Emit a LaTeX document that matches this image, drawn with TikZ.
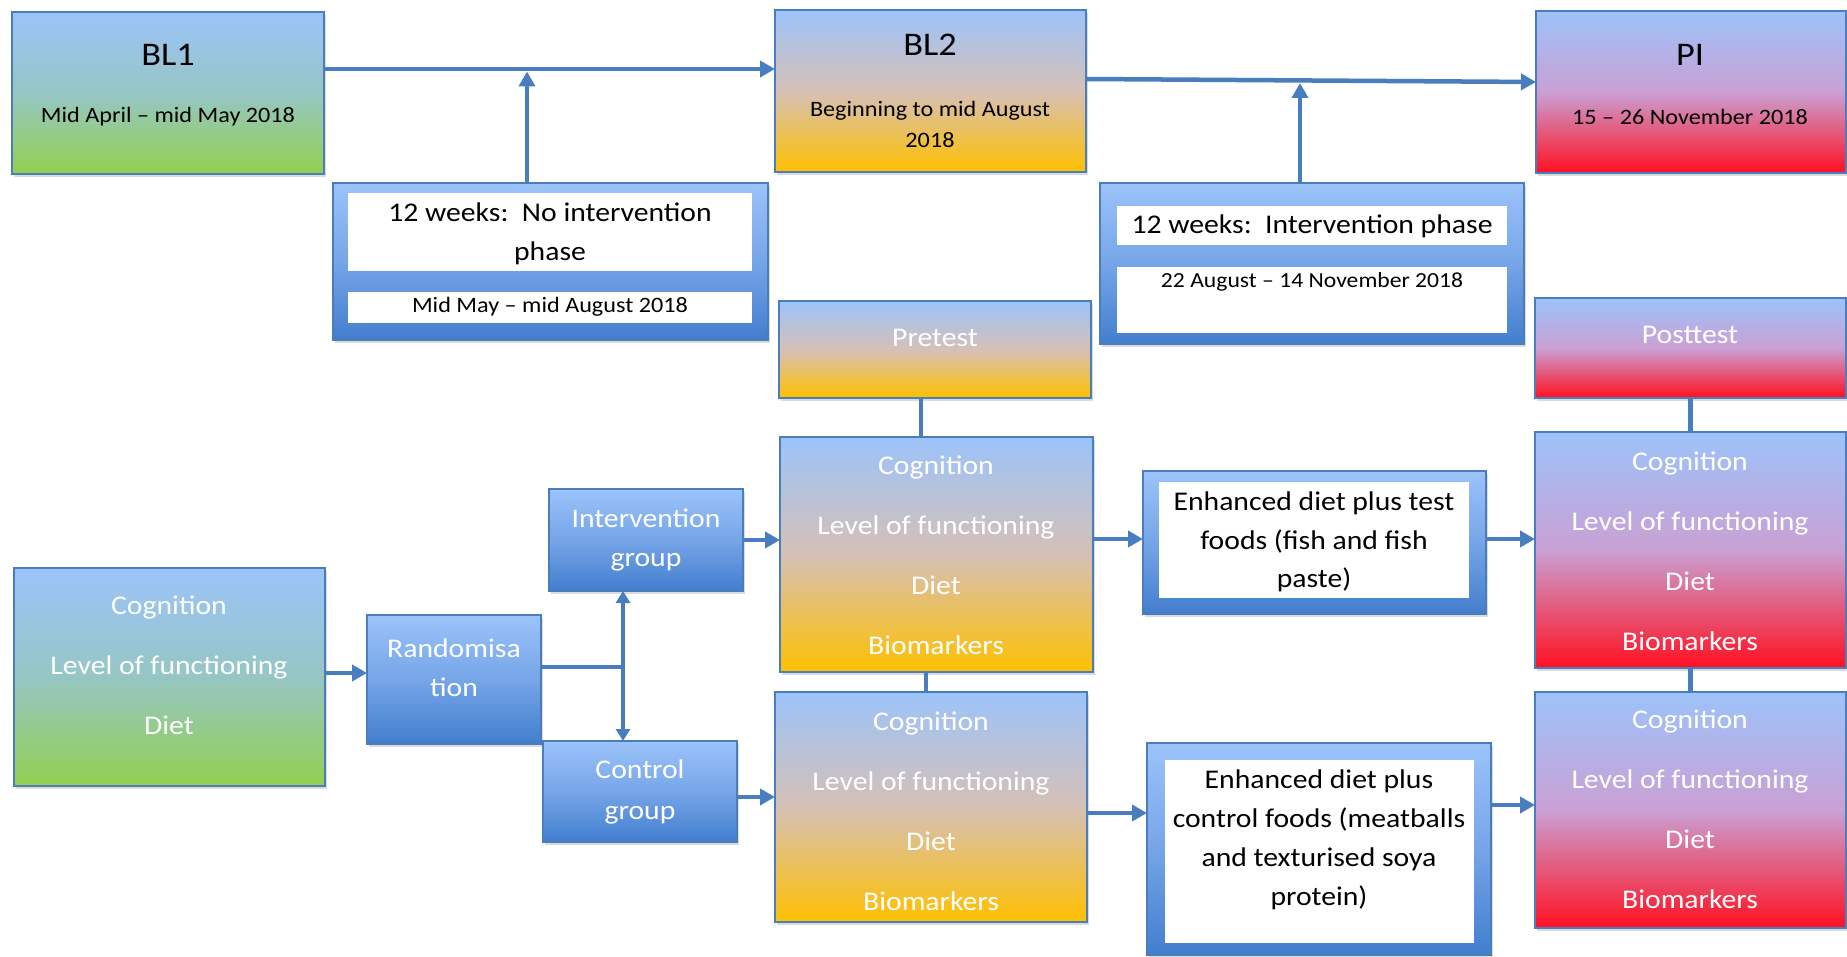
\documentclass[tikz,border=0pt]{standalone}
\usepackage{fontspec}
\setmainfont[FakeStretch=1.1]{Carlito}
\usetikzlibrary{arrows.meta,shadows}
\definecolor{topblue}{RGB}{156,195,250}
\definecolor{midblue}{RGB}{118,165,232}
\definecolor{botblue}{RGB}{66,126,206}
\definecolor{midgreen}{RGB}{150,198,196}
\definecolor{botgreen}{RGB}{146,208,80}
\definecolor{midorange}{RGB}{214,192,182}
\definecolor{botorange}{RGB}{255,192,0}
\definecolor{midred}{RGB}{202,160,212}
\definecolor{botred}{RGB}{255,16,32}
\definecolor{edgecol}{RGB}{74,126,187}
\definecolor{linecol}{RGB}{72,125,192}
\newcommand\mkbox[6]{\node[#1, minimum width={(#5)-(#3)}, minimum height={(#6)-(#4)}] (#2) at ({((#3)+(#5))/2},{((#4)+(#6))/2}) {};}
\tikzset{
  box/.style={draw=edgecol, line width=1.8pt, inner sep=0pt, outer sep=0pt,
    drop shadow={opacity=0.28, shadow xshift=1.5pt, shadow yshift=-3pt}},
  bluebox/.style={box, top color=topblue, bottom color=botblue, middle color=midblue},
  greenbox/.style={box, top color=topblue, bottom color=botgreen, middle color=midgreen},
  orangebox/.style={box, top color=topblue, bottom color=botorange, middle color=midorange},
  redbox/.style={box, top color=topblue, bottom color=botred, middle color=midred},
  whitebox/.style={fill=white, draw=none, inner sep=0pt, outer sep=0pt},
  tw/.style={text=white, align=center, inner sep=0pt},
  tb/.style={text=black, align=center, inner sep=0pt},
  conn/.style={draw=linecol, line width=4.5pt},
  arr/.style={conn, -{Triangle[length=15pt,width=16pt]}},
  darr/.style={conn, {Triangle[length=12pt,width=14pt]}-{Triangle[length=12pt,width=14pt]}},
  lbl/.style={font=\fontsize{27}{60}\selectfont},
}
\begin{document}
\begin{tikzpicture}[x=1pt,y=-1pt]
\useasboundingbox (0,0) rectangle (1847,957);
\fill[white] (0,0) rectangle (1847,957);

% top row
\mkbox{greenbox}{bl1}{12}{12}{324}{174}
\mkbox{orangebox}{bl2}{775}{10}{1086}{172}
\mkbox{redbox}{pi}{1536}{11}{1846}{173}
\node[tb, font=\fontsize{33}{40}\selectfont] (bl1t) at (168,55) {BL1};
\node[tb, font=\fontsize{22}{30}\selectfont] (bl1d) at (168,117) {Mid April – mid May 2018};
\node[tb, font=\fontsize{33}{40}\selectfont] (bl2t) at (930,45) {BL2};
\node[tb, font=\fontsize{22}{31}\selectfont] (bl2d) at (930,124) {Beginning to mid August\\2018};
\node[tb, font=\fontsize{33}{40}\selectfont] (pit) at (1690,55) {PI};
\node[tb, font=\fontsize{22}{30}\selectfont] (pid) at (1690,117) {15 – 26 November 2018};

% phase boxes
\mkbox{bluebox}{wk1}{333}{183}{768}{340}
\mkbox{whitebox}{wk1a}{348}{193}{752}{271}
\mkbox{whitebox}{wk1b}{348}{292}{752}{323}
\node[tb, font=\fontsize{27}{39}\selectfont] (wk1at) at (550,234) {12 weeks:\ \ No intervention\\phase};
\node[tb, font=\fontsize{22}{30}\selectfont] (wk1bt) at (550,307) {Mid May – mid August 2018};
\mkbox{bluebox}{wk2}{1100}{183}{1524}{344}
\mkbox{whitebox}{wk2a}{1117}{206}{1507}{245}
\mkbox{whitebox}{wk2b}{1117}{267}{1507}{333}
\node[tb, font=\fontsize{27}{39}\selectfont] (wk2at) at (1312,226) {12 weeks:\ \ Intervention phase};
\node[tb, font=\fontsize{21.5}{30}\selectfont] (wk2bt) at (1312,282) {22 August – 14 November 2018};

% pre / post
\mkbox{orangebox}{pre}{779}{301}{1091}{398}
\node[tw, lbl] (pret) at (935,338) {Pretest};
\mkbox{redbox}{post}{1535}{298}{1846}{398}
\node[tw, lbl] (postt) at (1690,335) {Posttest};

% measurement boxes
\mkbox{orangebox}{cog1}{780}{437}{1093}{672}
\node[tw, lbl] (cog1t) at (936,555.5) {Cognition\\Level of functioning\\Diet\\Biomarkers};
\mkbox{orangebox}{cog2}{775}{692}{1087}{922}
\node[tw, lbl] (cog2t) at (931,811.5) {Cognition\\Level of functioning\\Diet\\Biomarkers};
\mkbox{redbox}{red1}{1535}{432}{1846}{668}
\node[tw, lbl] (red1t) at (1690,551) {Cognition\\Level of functioning\\Diet\\Biomarkers};
\mkbox{redbox}{red2}{1535}{692}{1846}{928}
\node[tw, lbl] (red2t) at (1690,809.5) {Cognition\\Level of functioning\\Diet\\Biomarkers};
\mkbox{greenbox}{green}{14}{568}{325}{786}
\node[tw, lbl] (greent) at (169,665) {Cognition\\Level of functioning\\Diet};

% randomisation and groups
\mkbox{bluebox}{rand}{367}{615}{541}{744}
\node[tw, font=\fontsize{27}{39}\selectfont] (randt) at (454,668) {Randomisa\\tion};
\mkbox{bluebox}{ig}{549}{489}{743}{591}
\node[tw, font=\fontsize{27}{39}\selectfont] (igt) at (646,540) {Intervention\\group};
\mkbox{bluebox}{cg}{543}{741}{737}{842}
\node[tw, font=\fontsize{27}{41}\selectfont] (cgt) at (640,792) {Control\\group};

% diet boxes
\mkbox{bluebox}{enh1}{1143}{471}{1486}{614}
\mkbox{whitebox}{enh1w}{1159}{482}{1469}{598}
\node[tb, font=\fontsize{27}{38.5}\selectfont] (enh1t) at (1314,542) {Enhanced diet plus test\\foods (fish and fish\\paste)};
\mkbox{bluebox}{enh2}{1147}{743}{1491}{955}
\mkbox{whitebox}{enh2w}{1165}{760}{1474}{943}
\node[tb, font=\fontsize{27}{39}\selectfont] (enh2t) at (1319,840) {Enhanced diet plus\\control foods (meatballs\\and texturised soya\\protein)};

% connectors
\coordinate (m1) at (527,71.5);
\coordinate (m2) at (1300,83);
\coordinate (jx) at (623,0);
\draw[arr] ([yshift=24pt]bl1.east) -- ([yshift=24pt]bl1.east -| bl2.west);
\draw[arr] (wk1.north -| m1) -- (m1);
\draw[arr] ([yshift=12pt]bl2.east) -- ([yshift=10pt]pi.west);
\draw[arr] (wk2.north -| m2) -- (m2);
\draw[conn] ([xshift=-14pt]pre.south) -- ([xshift=-14pt]pre.south |- cog1.north);
\draw[conn] ([xshift=-10.5pt]cog1.south) -- ([xshift=-10.5pt]cog1.south |- cog2.north);
\draw[conn] (post.south) -- (post.south |- red1.north);
\draw[conn] (red1.south) -- (red1.south |- red2.north);
\draw[arr] ([yshift=4pt]green.east) -- ([yshift=4pt]green.east -| rand.west);
\draw[conn] ([yshift=12.5pt]rand.east) -- ([yshift=12.5pt]rand.east -| jx);
\draw[darr] (jx |- ig.south) -- (jx |- cg.north);
\draw[arr] (ig.east) -- (ig.east -| cog1.west);
\draw[arr] ([yshift=-5.5pt]cg.east) -- ([yshift=-5.5pt]cg.east -| cog2.west);
\draw[arr] ([yshift=15.5pt]cog1.east) -- ([yshift=15.5pt]cog1.east -| enh1.west);
\draw[arr] ([yshift=-6pt]cog2.east) -- ([yshift=-6pt]cog2.east -| enh2.west);
\draw[arr] ([yshift=3.5pt]enh1.east) -- ([yshift=3.5pt]enh1.east -| red1.west);
\draw[arr] ([yshift=44pt]enh2.east) -- ([yshift=44pt]enh2.east -| red2.west);
\end{tikzpicture}
\end{document}
